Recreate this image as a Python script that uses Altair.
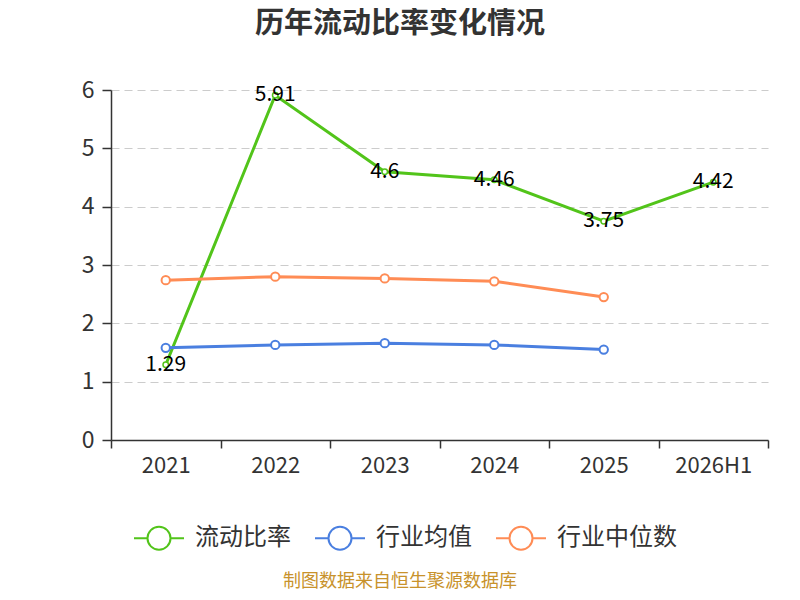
import altair as alt
import pandas as pd

years = ["2021", "2022", "2023", "2024", "2025", "2026H1"]
ratio = [1.29, 5.91, 4.6, 4.46, 3.75, 4.42]
ind_mean_years = ["2021", "2022", "2023", "2024", "2025"]
ind_mean = [1.58, 1.63, 1.66, 1.63, 1.55]
ind_median = [2.74, 2.80, 2.77, 2.72, 2.45]
series_names = ["流动比率", "行业均值", "行业中位数"]
colors = ["#52C41A", "#4A7FE0", "#FF8C55"]
title_text = "历年流动比率变化情况"
footer_text = "制图数据来自恒生聚源数据库"

rows = []
for y, v in zip(years, ratio):
    rows.append({"year": y, "value": v, "series": series_names[0], "label": f"{v:g}"})
for y, v in zip(ind_mean_years, ind_mean):
    rows.append({"year": y, "value": v, "series": series_names[1], "label": ""})
for y, v in zip(ind_mean_years, ind_median):
    rows.append({"year": y, "value": v, "series": series_names[2], "label": ""})
df = pd.DataFrame(rows)

FONT = "Noto Sans CJK SC"

x_enc = alt.X("year:N", sort=years,
              scale=alt.Scale(type="band", domain=years, paddingInner=0, paddingOuter=0),
              axis=alt.Axis(title=None, tickBand="extent", labelAngle=0, labelFontSize=22,
                            labelColor="#333", labelPadding=7, tickSize=8, tickColor="#333",
                            domainColor="#333", domainWidth=1.5, tickWidth=1.5,
                            labelFont=FONT, grid=False))
y_enc = alt.Y("value:Q", scale=alt.Scale(domain=[0, 6], nice=False),
              axis=alt.Axis(title=None, values=[0, 1, 2, 3, 4, 5, 6], labelFontSize=23,
                            labelColor="#333", labelPadding=8, tickSize=9, tickColor="#333",
                            domainColor="#333", domainWidth=1.5, tickWidth=1.5,
                            labelFont=FONT, grid=True, gridColor="#cccccc",
                            gridDash=[8, 5], gridWidth=1.2))

color_scale = alt.Scale(domain=series_names, range=colors)
legend_path = ("M-1,0L-0.46,0M0.46,0L1,0M-0.46,0A0.46,0.46,0,1,1,0.46,0"
               "A0.46,0.46,0,1,1,-0.46,0Z")
stroke_enc = alt.Stroke("series:N", scale=color_scale, sort=series_names,
                        legend=alt.Legend(title=None, orient="none", legendX=22, legendY=422,
                                          direction="horizontal", symbolType=legend_path,
                                          symbolSize=2500, symbolStrokeWidth=2,
                                          symbolFillColor="white", labelFontSize=24,
                                          labelFont=FONT, labelColor="#333", labelOffset=10,
                                          columnPadding=20))

base = alt.Chart(df)
lines = base.mark_line(strokeWidth=3).encode(x=x_enc, y=y_enc, stroke=stroke_enc,
                                             detail="series:N")
points_small = base.transform_filter(alt.datum.series == series_names[0]).mark_point(
    filled=True, fill="white", size=30, strokeWidth=1.5, opacity=1
).encode(x=x_enc, y=y_enc, stroke=alt.Stroke("series:N", scale=color_scale, legend=None))
points = base.transform_filter(alt.datum.series != series_names[0]).mark_point(
    filled=True, fill="white", size=70, strokeWidth=2, opacity=1
).encode(x=x_enc, y=y_enc, stroke=alt.Stroke("series:N", scale=color_scale, legend=None))
labels = base.transform_filter(alt.datum.series == series_names[0]).mark_text(
    fontSize=21, font=FONT, color="#000", align="center", baseline="middle"
).encode(x=x_enc, y=y_enc, text="label:N")

title = alt.Chart(pd.DataFrame({"t": [title_text]})).mark_text(
    fontSize=29, font=FONT, fontWeight="bold", color="#333", align="center", baseline="middle"
).encode(x=alt.value(289), y=alt.value(-66), text="t:N")

footer = alt.Chart(pd.DataFrame({"t": [footer_text]})).mark_text(
    fontSize=18, font=FONT, color="#C8922B", align="center", baseline="middle"
).encode(x=alt.value(289), y=alt.value(492), text="t:N")

chart = alt.layer(lines, points, points_small, labels, title, footer).properties(
    width=657, height=350,
    autosize=alt.AutoSizeParams(type="none"),
    padding={"left": 103, "top": 82, "right": 24, "bottom": 152},
).configure_view(stroke=None)

chart.save("out.html", embed_options={"renderer": "svg", "actions": False})
